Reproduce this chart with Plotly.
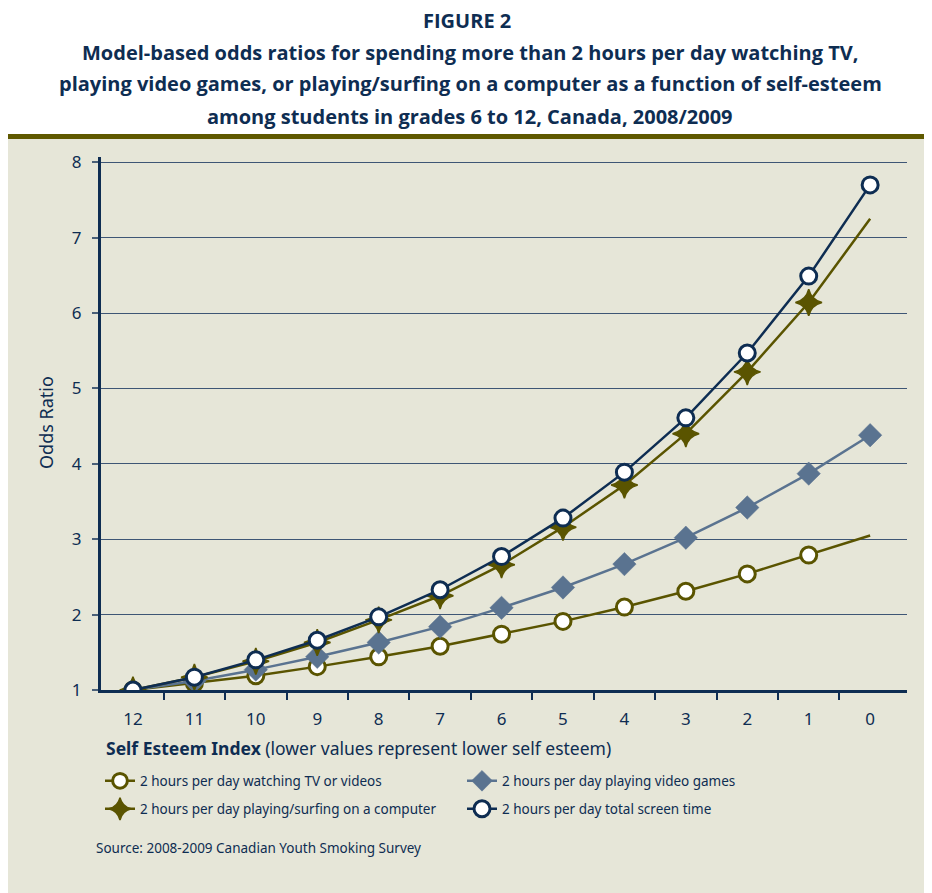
import plotly.graph_objects as go

categories = ["12", "11", "10", "9", "8", "7", "6", "5", "4", "3", "2", "1", "0"]
tv_videos = [1.00, 1.09, 1.19, 1.31, 1.44, 1.58, 1.74, 1.91, 2.10, 2.31, 2.54, 2.79, 3.05]
video_games = [1.00, 1.12, 1.27, 1.44, 1.63, 1.84, 2.09, 2.36, 2.67, 3.02, 3.42, 3.87, 4.38]
computer = [1.00, 1.17, 1.38, 1.63, 1.93, 2.25, 2.66, 3.16, 3.72, 4.40, 5.22, 6.14, 7.25]
total_screen = [1.00, 1.17, 1.40, 1.66, 1.97, 2.33, 2.77, 3.28, 3.89, 4.61, 5.47, 6.49, 7.70]

series_names = [
    "2 hours per day watching TV or videos",
    "2 hours per day playing video games",
    "2 hours per day playing/surfing on a computer",
    "2 hours per day total screen time",
]

OLIVE = "#5A5400"
NAVY = "#0E2D52"
SLATE = "#5A7390"
BEIGE = "#E6E6D8"

# the page body has an 8px margin, so the figure sits at (8, 8) in the window
W, H = 924, 885
L, R, T, B = 93, 25, 149, 203
PW, PH = W - L - R, H - T - B
OFF = 8


def px(x):
    return (x - OFF - L) / PW


def py(y):
    return (H - B - (y - OFF)) / PH


n = len(categories)
xpos = list(range(n))

fig = go.Figure()
fig.add_trace(go.Scatter(
    x=xpos, y=tv_videos, name=series_names[0], mode="lines+markers", legend="legend",
    line=dict(color=OLIVE, width=2.5),
    marker=dict(symbol="circle", size=[16] * (n - 1) + [0], color="white", opacity=1,
                line=dict(color=OLIVE, width=3)),
))
fig.add_trace(go.Scatter(
    x=xpos, y=video_games, name=series_names[1], mode="lines+markers", legend="legend",
    line=dict(color=SLATE, width=2.5),
    marker=dict(symbol="diamond", size=18, color=SLATE, opacity=1,
                line=dict(color=SLATE, width=0.5)),
))
fig.add_trace(go.Scatter(
    x=xpos, y=computer, name=series_names[2], mode="lines+markers", legend="legend2",
    line=dict(color=OLIVE, width=2.5),
    marker=dict(symbol="star-diamond", size=[19] * (n - 1) + [0], color=OLIVE, opacity=1,
                line=dict(color=OLIVE, width=1.5)),
))
fig.add_trace(go.Scatter(
    x=xpos, y=total_screen, name=series_names[3], mode="lines+markers", legend="legend2",
    line=dict(color=NAVY, width=2.5),
    marker=dict(symbol="circle", size=16, color="white", opacity=1,
                line=dict(color=NAVY, width=3)),
))

shapes = [
    dict(type="rect", xref="paper", yref="paper", x0=px(0), x1=px(960), y0=py(960), y1=py(139),
         fillcolor=BEIGE, line=dict(width=0), layer="below"),
    dict(type="rect", xref="paper", yref="paper", x0=px(0), x1=px(960), y0=py(139), y1=py(134),
         fillcolor="#5F5900", line=dict(width=0), layer="below"),
]

title_font = dict(family="Open Sans, sans-serif", size=20, color=NAVY)
annotations = [
    dict(text="<b>FIGURE 2</b>", x=px(467), y=py(20), xref="paper", yref="paper",
         showarrow=False, font=title_font, xanchor="center", yanchor="middle"),
    dict(text="<b>Model-based odds ratios for spending more than 2 hours per day watching TV,</b>",
         x=px(470), y=py(52), xref="paper", yref="paper",
         showarrow=False, font=title_font, xanchor="center", yanchor="middle"),
    dict(text="<b>playing video games, or playing/surfing on a computer as a function of self-esteem</b>",
         x=px(470), y=py(84), xref="paper", yref="paper",
         showarrow=False, font=title_font, xanchor="center", yanchor="middle"),
    dict(text="<b>among students in grades 6 to 12, Canada, 2008/2009</b>",
         x=px(470), y=py(116), xref="paper", yref="paper",
         showarrow=False, font=title_font, xanchor="center", yanchor="middle"),
    dict(text="Odds Ratio", x=px(46), y=py(422), xref="paper", yref="paper", textangle=-90,
         showarrow=False, font=dict(family="Noto Sans", size=18, color=NAVY),
         xanchor="center", yanchor="middle"),
    dict(text="<b>Self Esteem Index</b> (lower values represent lower self esteem)",
         x=px(104), y=py(748), xref="paper", yref="paper",
         showarrow=False, font=dict(family="Noto Sans", size=17.5, color=NAVY),
         xanchor="left", yanchor="middle"),
    dict(text="Source: 2008-2009 Canadian Youth Smoking Survey",
         x=px(94), y=py(848), xref="paper", yref="paper",
         showarrow=False, font=dict(family="Noto Sans", size=13.5, color=NAVY),
         xanchor="left", yanchor="middle"),
]

legend_common = dict(
    orientation="h", xref="paper", yref="paper",
    xanchor="left", yanchor="middle",
    entrywidth=317, entrywidthmode="pixels",
    bgcolor="rgba(0,0,0,0)",
    font=dict(family="Noto Sans", size=13.5, color=NAVY),
    itemwidth=30,
)

fig.update_layout(
    width=W, height=H,
    margin=dict(l=L, r=R, t=T, b=B, pad=0),
    paper_bgcolor="white",
    plot_bgcolor=BEIGE,
    shapes=shapes,
    annotations=annotations,
    showlegend=True,
    legend=dict(x=px(100), y=py(781), **legend_common),
    legend2=dict(x=px(100), y=py(809), **legend_common),
    xaxis=dict(
        range=[-0.52, 12.6],
        tickmode="array", tickvals=xpos, ticktext=categories,
        ticks="outside", ticklen=7, tickcolor="rgba(0,0,0,0)",
        ticklabelstandoff=5,
        minor=dict(ticks="outside", tickmode="array",
                   tickvals=[i + 0.5 for i in range(n - 1)],
                   ticklen=7, tickwidth=1.5, tickcolor=NAVY, showgrid=False),
        showline=True, linecolor=NAVY, linewidth=3,
        showgrid=False, zeroline=False,
        tickfont=dict(family="Noto Sans", size=17, color=NAVY),
    ),
    yaxis=dict(
        range=[1, 8.07], tickvals=[1, 2, 3, 4, 5, 6, 7, 8],
        ticks="outside", ticklen=6, tickwidth=1.5, tickcolor="#4A6078",
        ticklabelstandoff=7,
        showline=True, linecolor=NAVY, linewidth=3,
        showgrid=True, gridcolor="#3E5675", gridwidth=1.3,
        zeroline=False,
        tickfont=dict(family="Noto Sans", size=17, color=NAVY),
    ),
)

fig.write_html("out.html")
